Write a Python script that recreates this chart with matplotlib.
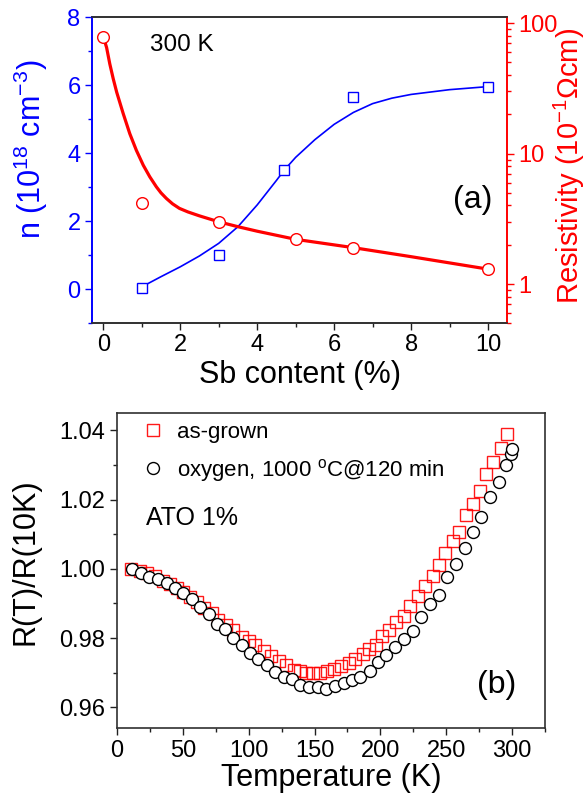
import matplotlib
matplotlib.use('Agg')
import matplotlib.pyplot as plt
from matplotlib.ticker import MultipleLocator, LogLocator, NullFormatter, FixedLocator, FixedFormatter

plt.rcParams['font.family'] = ['Liberation Sans', 'DejaVu Sans']
plt.rcParams['mathtext.fontset'] = 'custom'
plt.rcParams['mathtext.rm'] = 'Liberation Sans'
plt.rcParams['mathtext.it'] = 'Liberation Sans:italic'
plt.rcParams['mathtext.bf'] = 'Liberation Sans:bold'

# (a) carrier density and resistivity vs Sb content at 300 K
sb_n = [1, 3, 4.7, 6.5, 10]
n_vals = [0.05, 1.01, 3.51, 5.66, 5.95]
sb_rho = [0, 1, 3, 5, 6.5, 10]
rho_vals = [79, 4.15, 2.99, 2.2, 1.9, 1.3]

# guide-to-the-eye curves
n_fit_x = [1, 1.5, 2, 2.5, 3, 3.5, 4, 4.5, 4.7, 5, 5.5, 6, 6.5, 7, 7.5, 8, 9, 10]
n_fit_y = [0.07, 0.37, 0.66, 0.98, 1.35, 1.84, 2.48, 3.2, 3.5, 3.88, 4.4, 4.85,
           5.2, 5.46, 5.62, 5.73, 5.87, 5.96]
rho_fit_x = [0, 0.087, 0.17, 0.26, 0.35, 0.52, 0.69, 0.86, 1.04, 1.21, 1.38, 1.5,
             1.64, 1.8, 1.98, 2.2, 2.5, 3, 3.5, 4, 5, 6.5, 8, 10]
rho_fit_y = [79, 65, 48.7, 37.4, 29.5, 20.2, 14.2, 10.6, 8.14, 6.63, 5.56, 5.0,
             4.53, 4.12, 3.8, 3.57, 3.33, 3.0, 2.75, 2.54, 2.2, 1.9, 1.62, 1.3]

# (b) normalised R(T) for ATO 1%
T_ag = [10.5, 17.5, 23.1, 28.9, 35.2, 40.3, 45.4, 50.4, 55.5, 60.6, 66.1, 72.0,
        77.0, 82.9, 88.4, 94.8, 100.0, 104.9, 111.3, 117.1, 122.7, 128.3, 134.1,
        139.1, 143.7, 148.8, 154.3, 159.4, 164.5, 170.3, 175.9, 181.0, 186.5,
        191.6, 196.7, 201.2, 206.3, 211.9, 217.7, 222.8, 228.6, 233.7, 239.7,
        244.3, 249.4, 255.2, 259.5, 265.3, 270.4, 275.5, 280.5, 285.6, 291.2, 296.3]
R_ag = [1.0000, 0.9993, 0.9988, 0.9979, 0.9966, 0.9955, 0.9944, 0.9932, 0.9919,
        0.9903, 0.9887, 0.9871, 0.9853, 0.9839, 0.9822, 0.9802, 0.9790, 0.9779,
        0.9762, 0.9748, 0.9733, 0.9721, 0.9709, 0.9704, 0.9700, 0.9700, 0.9698,
        0.9704, 0.9711, 0.9719, 0.9729, 0.9740, 0.9753, 0.9769, 0.9781, 0.9806,
        0.9824, 0.9845, 0.9863, 0.9892, 0.9920, 0.9949, 0.9978, 1.0012, 1.0045,
        1.0079, 1.0107, 1.0155, 1.0187, 1.0225, 1.0273, 1.0309, 1.0350, 1.0390]
T_ox = [11.5, 18, 24.6, 31.2, 37.6, 44.1, 50.4, 56.8, 63.2, 69.5, 75.8, 82.1,
        88.4, 94.8, 101.1, 107.4, 113.8, 120.1, 126.5, 132.8, 139.1, 145.5, 152.3,
        158.9, 165.7, 172.1, 178.4, 184.7, 191.8, 198.2, 204.5, 211.4, 218.2,
        224.8, 231.1, 238.0, 244.3, 250.6, 257.3, 263.9, 270.4, 276.7, 283.1,
        289.9, 295.7, 298.8, 300.1]
R_ox = [1.0000, 0.9988, 0.9977, 0.9970, 0.9959, 0.9944, 0.9930, 0.9912, 0.9890,
        0.9869, 0.9840, 0.9826, 0.9800, 0.9780, 0.9756, 0.9738, 0.9723, 0.9703,
        0.9688, 0.9681, 0.9665, 0.9658, 0.9658, 0.9654, 0.9662, 0.9669, 0.9679,
        0.9688, 0.9705, 0.9731, 0.9750, 0.9775, 0.9798, 0.9820, 0.9860, 0.9899,
        0.9925, 0.9975, 1.0015, 1.0060, 1.0107, 1.0150, 1.0208, 1.0251, 1.0300,
        1.0331, 1.0346]

BLUE = '#0000ff'
RED = '#ff0000'
TICK_FS = 17
LABEL_FS = 22

fig = plt.figure(figsize=(5.86, 7.98), dpi=100)

# ---------------- panel (a) ----------------
ax1 = fig.add_axes([0.1565, 0.5949, 0.7092, 0.3835])
ax2 = ax1.twinx()

ax1.plot(n_fit_x, n_fit_y, color=BLUE, lw=1.2, zorder=2)
ax1.plot(sb_n, n_vals, 's', ms=7.7, mfc='white', mec=BLUE, mew=1.0, zorder=3)
ax2.plot(rho_fit_x, rho_fit_y, color=RED, lw=2.3, zorder=2)
ax2.plot(sb_rho, rho_vals, 'o', ms=8.4, mfc='white', mec=RED, mew=1.0, zorder=3)

ax1.set_xlim(-0.3, 10.5)
ax1.set_ylim(-1, 8)
ax2.set_yscale('log')
ax2.set_ylim(0.5, 111)

ax1.xaxis.set_major_locator(MultipleLocator(2))
ax1.xaxis.set_minor_locator(MultipleLocator(1))
ax1.yaxis.set_major_locator(MultipleLocator(2))
ax1.yaxis.set_minor_locator(MultipleLocator(1))
ax2.yaxis.set_major_locator(FixedLocator([1, 10, 100]))
ax2.yaxis.set_major_formatter(FixedFormatter(['1', '10', '100']))
ax2.yaxis.set_minor_locator(LogLocator(base=10, subs=range(2, 10)))
ax2.yaxis.set_minor_formatter(NullFormatter())

ax1.tick_params(axis='x', which='major', direction='out', length=5, width=1,
                labelsize=TICK_FS, pad=3, colors='#202020')
ax1.tick_params(axis='x', which='minor', direction='out', length=3, width=1, colors='#202020')
ax1.tick_params(axis='y', which='major', direction='out', length=5, width=1,
                labelsize=TICK_FS, pad=3, colors=BLUE)
ax1.tick_params(axis='y', which='minor', direction='out', length=3, width=1, colors=BLUE)
ax2.tick_params(axis='y', which='major', direction='out', length=5, width=1,
                labelsize=TICK_FS, pad=3, colors=RED)
ax2.tick_params(axis='y', which='minor', direction='out', length=3, width=1, colors=RED)
ax1.tick_params(axis='x', labelcolor='black')

for a in (ax1, ax2):
    for s in a.spines.values():
        s.set_linewidth(1.2)
        s.set_color('#303030')
ax2.spines['left'].set_color(BLUE)
ax2.spines['right'].set_color(RED)
ax1.spines['left'].set_color(BLUE)
ax1.spines['right'].set_color(RED)

ax1.set_xlabel('Sb content (%)', fontsize=LABEL_FS, va='center')
ax1.xaxis.set_label_coords(0.5, -0.169)
ax1.set_ylabel('n (10$^{18}$ cm$^{-3}$)', fontsize=LABEL_FS, color=BLUE, va='center')
ax1.yaxis.set_label_coords(-0.146, 0.57)
ax2.set_ylabel('Resistivity (10$^{-1}$Ωcm)', fontsize=21, color=RED,
               va='center', rotation=90)
ax2.yaxis.set_label_coords(1.150, 0.515)

ax1.text(0.216, 0.909, '300 K', transform=ax1.transAxes, fontsize=17.5,
         ha='center', va='center')
ax1.text(0.917, 0.403, '(a)', transform=ax1.transAxes, fontsize=23,
         ha='center', va='center')

# ---------------- panel (b) ----------------
ax3 = fig.add_axes([0.1997, 0.0877, 0.7304, 0.3947])
ax3.plot(T_ag, R_ag, 's', ms=8.4, mfc='none', mec=RED, mew=1.0, alpha=0.9,
         label='as-grown', zorder=2)
ax3.plot(T_ox, R_ox, 'o', ms=8.6, mfc='white', mec='black', mew=1.0,
         label='oxygen, 1000 $^{\\rm o}$C@120 min', zorder=3)

ax3.set_xlim(0, 325)
ax3.set_ylim(0.954, 1.045)
ax3.xaxis.set_major_locator(MultipleLocator(50))
ax3.xaxis.set_minor_locator(MultipleLocator(25))
ax3.yaxis.set_major_locator(MultipleLocator(0.02))
ax3.yaxis.set_minor_locator(MultipleLocator(0.01))
ax3.yaxis.set_major_formatter(plt.FormatStrFormatter('%.2f'))
ax3.tick_params(which='major', direction='out', length=5, width=1,
                labelsize=TICK_FS, pad=3.5, colors='#202020', labelcolor='black')
ax3.tick_params(which='minor', direction='out', length=3, width=1, colors='#202020')
for s in ax3.spines.values():
    s.set_linewidth(1.2)
    s.set_color('#303030')

ax3.set_xlabel('Temperature (K)', fontsize=LABEL_FS, va='center')
ax3.xaxis.set_label_coords(0.5, -0.159)
ax3.set_ylabel('R(T)/R(10K)', fontsize=LABEL_FS, va='center')
ax3.yaxis.set_label_coords(-0.215, 0.528)

ax3.legend(loc='upper left', bbox_to_anchor=(0.058, 0.972), frameon=False,
           fontsize=16, handlelength=1.0, handletextpad=0.6, labelspacing=0.62,
           borderpad=0, borderaxespad=0, numpoints=1)
ax3.text(0.068, 0.667, 'ATO 1%', transform=ax3.transAxes, fontsize=18,
         ha='left', va='center')
ax3.text(0.886, 0.137, '(b)', transform=ax3.transAxes, fontsize=23,
         ha='center', va='center')

fig.savefig('out.png', dpi=100)
